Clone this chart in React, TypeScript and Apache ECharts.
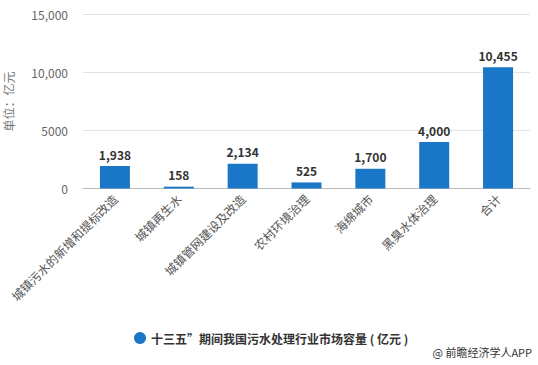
import React, { useEffect, useRef } from "react";
import * as echarts from "echarts";

const categories = ["城镇污水的新增和提标改造", "城镇再生水", "城镇管网建设及改造", "农村环境治理", "海绵城市", "黑臭水体治理", "合计"];
const values = [1938, 158, 2134, 525, 1700, 4000, 10455];
const yTicks = [0, 5000, 10000, 15000];
const seriesName = "十三五”期间我国污水处理行业市场容量 ( 亿元 )";
const unitName = "单位：亿元";
const credit = "@ 前瞻经济学人APP";

function fmt(v: number): string {
  if (v >= 10000) return v.toString().replace(/\B(?=(\d{3})+(?!\d))/g, ",");
  return String(v);
}
function fmtLabel(v: number): string {
  return v.toString().replace(/\B(?=(\d{3})+(?!\d))/g, ",");
}

export default function App() {
  const ref = useRef<HTMLDivElement>(null);
  useEffect(() => {
    if (!ref.current) return;
    const chart = echarts.init(ref.current, null, { renderer: "svg" });
    const font = "'Microsoft YaHei', 'Noto Sans CJK SC', sans-serif";
    chart.setOption({
      animation: false,
      textStyle: { fontFamily: font },
      grid: { left: 83, right: 8, top: 14.5, height: 174, containLabel: false, outerBoundsMode: "none" },
      legend: {
        data: [seriesName],
        left: 129,
        top: 327,
        icon: "circle",
        itemWidth: 12,
        itemHeight: 12,
        itemGap: 8,
        textStyle: { color: "#333", fontSize: 12, fontWeight: "bold", fontFamily: font },
      },
      xAxis: {
        type: "category",
        data: categories,
        axisLine: { lineStyle: { color: "#bbb" } },
        axisTick: { alignWithLabel: true, length: 6, lineStyle: { color: "#bbb" } },
        axisLabel: { rotate: 45, color: "#555", fontSize: 12, interval: 0, margin: 8, fontFamily: font },
      },
      yAxis: {
        type: "value",
        min: 0,
        max: 15000,
        interval: 5000,
        name: unitName,
        nameLocation: "middle",
        nameRotate: 90,
        nameGap: 69,
        nameTextStyle: { color: "#777", fontSize: 12, fontFamily: font },
        axisLine: { show: false },
        axisTick: { show: false },
        splitLine: { lineStyle: { color: "#e3e3e3" } },
        axisLabel: {
          color: "#666",
          fontSize: 12,
          margin: 15,
          fontFamily: font,
          formatter: (v: number) => (yTicks.includes(v) ? fmt(v) : ""),
        },
      },
      series: [
        {
          name: seriesName,
          type: "bar",
          data: values,
          barWidth: 30,
          itemStyle: { color: "#1a76c6" },
          label: {
            show: true,
            position: "top",
            distance: 6,
            color: "#333",
            fontWeight: "bold",
            fontSize: 12,
            fontFamily: font,
            formatter: (p: any) => fmtLabel(p.value),
          },
        },
      ],
      graphic: [
        {
          type: "text",
          right: 6,
          top: 346,
          style: { text: credit, fill: "#333", fontSize: 11, fontFamily: font },
        },
      ],
    });
    return () => chart.dispose();
  }, []);
  return <div ref={ref} style={{ width: 538, height: 365, position: "absolute", left: 0, top: 0 }} />;
}
